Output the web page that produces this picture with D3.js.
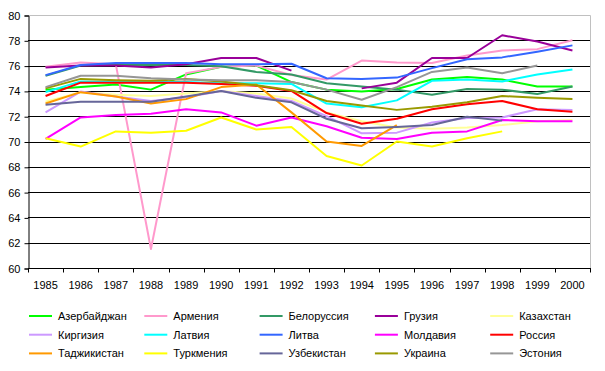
<!DOCTYPE html>
<html lang="ru">
<head>
<meta charset="UTF-8">
<title>Ожидаемая продолжительность жизни</title>
<style>
  body { margin: 0; background: #fff; }
  text { font-family: "Liberation Sans", Arial, sans-serif; font-size: 11px; fill: #000; }
</style>
</head>
<body>
<svg width="605" height="371"></svg>
<script src="https://d3js.org/d3.v7.min.js"></script>
<script>
// years on the category axis
var years = ["1985","1986","1987","1988","1989","1990","1991","1992","1993","1994","1995","1996","1997","1998","1999","2000"];
var yTicks = [60, 62, 64, 66, 68, 70, 72, 74, 76, 78, 80];

// one array per republic, null = no value
var azerbaijan  = [74.1, 74.3, 74.5, 74.1, 75.3, 75.9, 76.0, 74.7, 74.1, 73.95, 74.15, 74.9, 75.1, 74.9, 74.35, 74.35];
var armenia     = [75.9, 76.25, 76.1, 61.5, 75.4, 75.9, 76.0, 75.25, 74.9, 76.4, 76.25, 76.2, 76.8, 77.2, 77.3, 78.0];
var belarus     = [75.2, 76.0, 76.05, 76.05, 76.05, 75.95, 75.5, 75.3, 74.6, 74.35, 74.1, 73.7, 74.15, 74.1, 73.75, 74.35];
var georgia     = [75.85, 76.0, 76.0, 75.85, 76.1, 76.6, 76.6, 75.6, null, 74.2, 74.65, 76.6, 76.6, 78.4, 77.9, 77.2];
var kazakhstan  = [73.15, 73.9, 73.7, 73.6, 73.8, 74.0, 73.8, 73.4, 72.3, 71.6, 71.1, 71.0, 71.1, 71.3, 71.6, 71.7];
var kyrgyzstan  = [72.3, 73.95, 73.55, 73.2, 73.5, 74.0, 73.6, 73.2, 72.0, 70.65, 70.7, 71.5, 71.85, 71.9, 72.55, 72.5];
var latvia      = [73.9, 74.75, 74.7, 74.7, 74.7, 74.6, 74.6, 74.55, 73.0, 72.7, 73.25, 74.8, 74.9, 74.75, 75.3, 75.7];
var lithuania   = [75.25, 76.05, 76.2, 76.2, 76.2, 76.1, 76.1, 76.15, 75.0, 74.95, 75.05, 75.8, 76.5, 76.65, 77.1, 77.6];
var moldova     = [70.2, 71.9, 72.1, 72.2, 72.55, 72.3, 71.25, 71.9, 71.2, 70.3, 70.2, 70.7, 70.8, 71.7, 71.6, 71.6];
var russia      = [73.6, 74.65, 74.65, 74.65, 74.65, 74.55, 74.4, 74.0, 72.25, 71.4, 71.8, 72.55, 72.95, 73.2, 72.55, 72.35];
var tajikistan  = [73.0, 73.9, 73.55, 73.0, 73.35, 74.3, 74.5, 72.3, 70.0, 69.65, 71.3, null, null, null, null, null];
var turkmenia   = [70.25, 69.6, 70.8, 70.7, 70.85, 71.9, 70.95, 71.15, 68.85, 68.1, 70.0, 69.6, 70.25, 70.8, null, null];
var uzbekistan  = [72.9, 73.15, 73.15, 73.15, 73.55, 74.0, 73.45, 73.1, 71.8, 71.05, 71.15, 71.3, 71.95, 71.65, null, null];
var ukraine     = [74.2, 74.95, 74.85, 74.8, 74.95, 74.75, 74.45, 74.05, 73.2, 72.85, 72.5, 72.75, 73.1, 73.6, 73.45, 73.35];
var estonia     = [74.3, 75.2, 75.2, 75.0, 74.9, 74.85, 74.85, 74.7, 74.1, 73.3, 74.3, 75.5, 75.85, 75.4, 76.0, null];

var names  = ["Азербайджан","Армения","Белоруссия","Грузия","Казахстан",
              "Киргизия","Латвия","Литва","Молдавия","Россия",
              "Таджикистан","Туркмения","Узбекистан","Украина","Эстония"];
var values = [azerbaijan, armenia, belarus, georgia, kazakhstan,
              kyrgyzstan, latvia, lithuania, moldova, russia,
              tajikistan, turkmenia, uzbekistan, ukraine, estonia];
var colors = ["#00FF00","#FF99CC","#339966","#990099","#FFFF99",
              "#CC99FF","#00FFFF","#3366FF","#FF00FF","#FF0000",
              "#FF9900","#FFFF00","#666699","#999900","#969696"];

var svg = d3.select("svg");
var plotL = 28, plotR = 590, plotT = 15, plotB = 268;

var x = d3.scaleBand().domain(years).range([plotL, plotR]);
var y = d3.scaleLinear().domain([60, 80]).range([plotB, plotT]);

// gridlines
svg.append("g")
  .selectAll("line")
  .data(yTicks.filter(function(d) { return d > 60 && d < 80; }))
  .enter().append("line")
  .attr("x1", plotL).attr("x2", plotR)
  .attr("y1", function(d) { return Math.round(y(d)) + 0.5; })
  .attr("y2", function(d) { return Math.round(y(d)) + 0.5; })
  .attr("stroke", "#000").attr("stroke-width", 1);

// plot border top and right
svg.append("path")
  .attr("d", "M" + plotL + "," + (plotT + 0.5) + "H" + (plotR + 0.5) + "V" + plotB)
  .attr("fill", "none").attr("stroke", "#C0C0C0").attr("stroke-width", 1);

// y axis
var yAxis = svg.append("g")
  .attr("transform", "translate(" + (plotL + 0.5) + ",0.5)")
  .call(d3.axisLeft(y).tickValues(yTicks).tickSize(4).tickPadding(4));
yAxis.select(".domain").attr("stroke", "#000");
yAxis.selectAll("text").style("font-size", "11px")
  .style("font-family", "Liberation Sans, Arial, sans-serif");

// x axis with ticks between categories
var xAxis = svg.append("g")
  .attr("transform", "translate(0," + (plotB + 0.5) + ")");
xAxis.append("line")
  .attr("x1", plotL).attr("x2", plotR + 1)
  .attr("stroke", "#000");
xAxis.selectAll(".tk")
  .data(years.concat(["end"]))
  .enter().append("line")
  .attr("class", "tk")
  .attr("x1", function(d, i) { return Math.round(plotL + i * x.bandwidth()) + 0.5; })
  .attr("x2", function(d, i) { return Math.round(plotL + i * x.bandwidth()) + 0.5; })
  .attr("y1", 0).attr("y2", 4)
  .attr("stroke", "#000");
xAxis.selectAll(".lbl")
  .data(years)
  .enter().append("text")
  .attr("class", "lbl")
  .attr("x", function(d) { return x(d) + x.bandwidth() / 2; })
  .attr("y", 20)
  .attr("text-anchor", "middle")
  .text(function(d) { return d; });

// series lines
var line = d3.line()
  .defined(function(d) { return d != null; })
  .x(function(d, i) { return x(years[i]) + x.bandwidth() / 2; })
  .y(function(d) { return y(d); });

svg.append("g")
  .selectAll("path")
  .data(values)
  .enter().append("path")
  .attr("fill", "none")
  .attr("stroke", function(d, i) { return colors[i]; })
  .attr("stroke-width", 2)
  .attr("stroke-linejoin", "round")
  .attr("d", line);

// legend, 5 columns x 3 rows
var legend = svg.append("g")
  .selectAll("g")
  .data(names)
  .enter().append("g")
  .attr("transform", function(d, i) {
    return "translate(" + (29 + (i % 5) * 115.3) + "," + (316 + Math.floor(i / 5) * 18.7) + ")";
  });
legend.append("line")
  .attr("x1", 0).attr("x2", 23)
  .attr("stroke", function(d, i) { return colors[i]; })
  .attr("stroke-width", 2);
legend.append("text")
  .attr("x", 29)
  .attr("dy", "0.35em")
  .text(function(d) { return d; });
</script>
</body>
</html>
